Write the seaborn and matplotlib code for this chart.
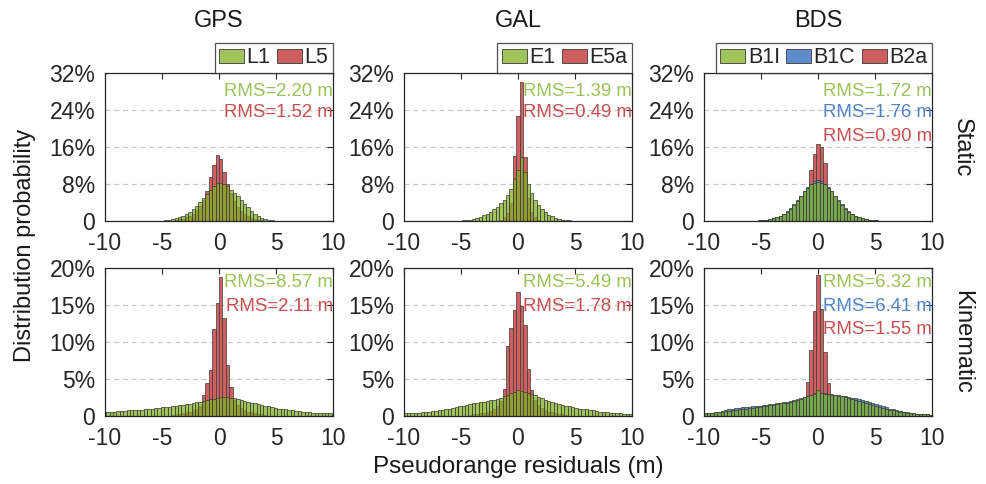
import numpy as np
import pandas as pd
import matplotlib
matplotlib.use("Agg")
import matplotlib.pyplot as plt
import seaborn as sns
from matplotlib.ticker import FuncFormatter
from matplotlib.patches import Patch

sns.set_theme(style="white")
plt.rcParams["font.family"] = ["Liberation Sans", "DejaVu Sans"]
plt.rcParams["axes.unicode_minus"] = False

# ---------------- data (percent per 0.3 m bin) ----------------
BIN_W = 0.3
SYSTEMS = ["GPS", "GAL", "BDS"]
ROWS = ["Static", "Kinematic"]

# GPS static, first bin centre -5.85
gps_sta_x0 = -5.85
gps_sta_L1 = [0.02, 0.03, 0.05, 0.08, 0.15, 0.25, 0.4, 0.6, 0.85, 1.15,
              1.5, 2.0, 2.6, 3.3, 4.1, 5.0, 5.9, 6.8, 7.6, 8.2,
              8.2, 8.1, 7.6, 6.8, 6.0, 5.3, 4.5, 3.7, 3.0, 2.2,
              1.5, 1.0, 0.7, 0.4, 0.25, 0.15, 0.1, 0.05, 0.03, 0.02]
gps_sta_L5 = [0, 0, 0, 0, 0, 0, 0.1, 0.2, 0.35, 0.5,
              0.8, 1.1, 1.6, 2.3, 3.2, 4.5, 6.5, 9.5, 12.1, 14.3,
              13.3, 10.7, 8.0, 6.0, 4.3, 3.0, 2.1, 1.5, 1.0, 0.7,
              0.5, 0.3, 0.2, 0.1, 0, 0, 0, 0, 0, 0]

# GAL static, first bin centre -6.0
gal_sta_x0 = -6.0
gal_sta_E1 = [0.02, 0.03, 0.05, 0.08, 0.12, 0.18, 0.3, 0.45, 0.65, 0.9,
              1.2, 1.6, 2.0, 2.5, 3.1, 3.8, 4.6, 5.6, 7.0, 9.0,
              11.0, 13.8, 10.5, 8.0, 6.0, 4.6, 3.5, 2.6, 1.9, 1.4,
              1.0, 0.7, 0.45, 0.3, 0.2, 0.12, 0.08, 0.05, 0.03, 0.02, 0.01]
gal_sta_E5a = [0, 0, 0, 0, 0, 0, 0, 0, 0, 0,
               0, 0, 0, 0, 0.1, 0.3, 0.8, 1.8, 4.0, 14.0,
               22.6, 30.1, 13.8, 5.0, 2.0, 0.8, 0.3, 0.1, 0, 0,
               0, 0, 0, 0, 0, 0, 0, 0, 0, 0, 0]

# BDS static, first bin centre -6.0
bds_sta_x0 = -6.0
bds_sta_B1I = [0.05, 0.07, 0.1, 0.14, 0.2, 0.28, 0.4, 0.55, 0.8, 1.1,
               1.5, 2.0, 2.7, 3.5, 4.4, 5.4, 6.4, 7.2, 7.9, 8.3,
               8.5, 8.3, 7.9, 7.2, 6.4, 5.4, 4.4, 3.5, 2.7, 2.0,
               1.5, 1.1, 0.8, 0.55, 0.4, 0.28, 0.2, 0.14, 0.1, 0.07, 0.05]
bds_sta_B1C = [0.05, 0.07, 0.1, 0.15, 0.22, 0.3, 0.43, 0.6, 0.85, 1.15,
               1.55, 2.1, 2.8, 3.6, 4.5, 5.5, 6.5, 7.4, 8.1, 8.6,
               8.8, 8.6, 8.1, 7.4, 6.5, 5.5, 4.5, 3.6, 2.8, 2.1,
               1.55, 1.15, 0.85, 0.6, 0.43, 0.3, 0.22, 0.15, 0.1, 0.07, 0.05]
bds_sta_B2a = [0, 0, 0, 0, 0, 0, 0, 0, 0.1, 0.15,
               0.2, 0.3, 0.45, 0.65, 1.0, 1.6, 3.0, 6.5, 11.0, 14.5,
               16.6, 16.1, 12.5, 7.0, 3.8, 2.2, 1.4, 0.9, 0.6, 0.4,
               0.3, 0.2, 0.1, 0, 0, 0, 0, 0, 0, 0, 0]

# GPS kinematic, first bin centre -10.05
gps_kin_x0 = -10.05
gps_kin_L1 = [0.55, 0.55, 0.6, 0.6, 0.65, 0.7, 0.7, 0.75, 0.75, 0.8,
              0.85, 0.85, 0.9, 0.95, 1.0, 1.05, 1.1, 1.15, 1.2, 1.25,
              1.3, 1.35, 1.45, 1.5, 1.6, 1.65, 1.75, 1.85, 1.95, 2.05,
              2.15, 2.25, 2.35, 2.45, 2.55, 2.6, 2.55, 2.5, 2.4, 2.3,
              2.2, 2.05, 1.9, 1.8, 1.7, 1.6, 1.5, 1.4, 1.3, 1.2,
              1.1, 1.0, 0.95, 0.9, 0.8, 0.75, 0.7, 0.65, 0.6, 0.55,
              0.5, 0.45, 0.45, 0.4, 0.4, 0.35, 0.35, 0.3]
gps_kin_L5_x0 = -4.05
gps_kin_L5 = [0.2, 0.25, 0.3, 0.4, 0.5, 0.6, 0.8, 1.0, 1.4, 2.8,
              4.4, 6.2, 11.7, 15.3, 18.8, 13.2, 6.9, 3.9, 2.2, 1.5,
              1.1, 0.8, 0.6, 0.5, 0.4, 0.3, 0.25, 0.2]

# GAL kinematic, first bin centre -9.9
gal_kin_x0 = -9.9
gal_kin_E1 = [0.35, 0.4, 0.4, 0.45, 0.45, 0.5, 0.55, 0.6, 0.65, 0.7,
              0.75, 0.8, 0.9, 1.0, 1.1, 1.2, 1.3, 1.4, 1.5, 1.6,
              1.7, 1.75, 1.85, 1.95, 2.0, 2.1, 2.2, 2.35, 2.5, 2.65,
              2.85, 3.05, 3.25, 3.45, 3.4, 3.3, 3.1, 2.95, 2.8, 2.6,
              2.4, 2.2, 2.05, 1.9, 1.75, 1.6, 1.5, 1.4, 1.3, 1.2,
              1.1, 1.0, 0.95, 0.9, 0.8, 0.75, 0.7, 0.6, 0.55, 0.5,
              0.45, 0.4, 0.4, 0.35, 0.3, 0.3, 0.25]
gal_kin_E5a_x0 = -4.2
gal_kin_E5a = [0.2, 0.25, 0.3, 0.35, 0.45, 0.55, 0.7, 0.9, 1.3, 2.0,
               3.6, 9.4, 11.9, 14.3, 16.7, 14.8, 12.3, 6.4, 3.5, 2.2,
               1.5, 1.1, 0.8, 0.6, 0.5, 0.4, 0.3, 0.25, 0.2]

# BDS kinematic, first bin centre -9.9
bds_kin_x0 = -9.9
bds_kin_B1I = [0.35, 0.4, 0.45, 0.5, 0.55, 0.6, 0.65, 0.7, 0.8, 0.85,
               0.9, 0.95, 1.0, 1.05, 1.1, 1.2, 1.25, 1.3, 1.4, 1.5,
               1.55, 1.6, 1.7, 1.75, 1.8, 1.9, 2.0, 2.2, 2.35, 2.55,
               2.7, 2.85, 3.0, 3.5, 3.1, 3.0, 2.95, 2.9, 2.85, 2.75,
               2.65, 2.55, 2.45, 2.35, 2.2, 2.05, 1.95, 1.8, 1.65, 1.5,
               1.35, 1.2, 1.05, 0.95, 0.85, 0.75, 0.65, 0.55, 0.5, 0.45,
               0.4, 0.35, 0.3, 0.3, 0.25, 0.25, 0.2]
bds_kin_B1C = [0.35, 0.4, 0.45, 0.55, 0.6, 0.7, 0.8, 0.9, 1.0, 1.05,
               1.1, 1.15, 1.2, 1.25, 1.3, 1.35, 1.4, 1.45, 1.5, 1.6,
               1.65, 1.7, 1.8, 1.85, 1.9, 2.0, 2.1, 2.25, 2.4, 2.6,
               2.75, 2.9, 3.05, 3.4, 3.15, 3.05, 3.0, 2.95, 2.9, 2.85,
               2.75, 2.7, 2.6, 2.5, 2.4, 2.3, 2.2, 2.05, 1.9, 1.75,
               1.6, 1.45, 1.3, 1.15, 1.0, 0.9, 0.75, 0.65, 0.55, 0.5,
               0.4, 0.35, 0.3, 0.3, 0.25, 0.25, 0.2]
bds_kin_B2a_x0 = -4.2
bds_kin_B2a = [0.15, 0.2, 0.25, 0.3, 0.4, 0.5, 0.6, 0.8, 1.1, 1.6,
               2.6, 4.6, 8.9, 14.2, 19.0, 14.4, 8.7, 4.4, 2.6, 1.7,
               1.2, 0.9, 0.7, 0.5, 0.4, 0.3, 0.25, 0.2, 0.15]

# RMS labels
rms_static = {"GPS": ["2.20", "1.52"], "GAL": ["1.39", "0.49"], "BDS": ["1.72", "1.76", "0.90"]}
rms_kinematic = {"GPS": ["8.57", "2.11"], "GAL": ["5.49", "1.78"], "BDS": ["6.32", "6.41", "1.55"]}
signals = {"GPS": ["L1", "L5"], "GAL": ["E1", "E5a"], "BDS": ["B1I", "B1C", "B2a"]}

# ---------------- styling ----------------
FACE = {"g": "#80b023", "b": "#5a8cd0", "r": "#d05f5f"}
ALPHA = {"g": 0.75, "b": 1.0, "r": 1.0}
LEG = {"g": "#a0c45a", "b": "#5f8ccd", "r": "#cd5f5f"}
TXT = {"g": "#9cc25a", "b": "#4f82c8", "r": "#c94f4f"}
EDGE = "#3a3a3a"

panels = {
    ("Static", "GPS"): [("r", gps_sta_x0, gps_sta_L5), ("g", gps_sta_x0, gps_sta_L1)],
    ("Static", "GAL"): [("r", gal_sta_x0, gal_sta_E5a), ("g", gal_sta_x0, gal_sta_E1)],
    ("Static", "BDS"): [("r", bds_sta_x0, bds_sta_B2a), ("b", bds_sta_x0, bds_sta_B1C),
                        ("g", bds_sta_x0, bds_sta_B1I)],
    ("Kinematic", "GPS"): [("r", gps_kin_L5_x0, gps_kin_L5), ("g", gps_kin_x0, gps_kin_L1)],
    ("Kinematic", "GAL"): [("r", gal_kin_E5a_x0, gal_kin_E5a), ("g", gal_kin_x0, gal_kin_E1)],
    ("Kinematic", "BDS"): [("r", bds_kin_B2a_x0, bds_kin_B2a), ("b", bds_kin_x0, bds_kin_B1C),
                           ("g", bds_kin_x0, bds_kin_B1I)],
}
text_colors = {2: ["g", "r"], 3: ["g", "b", "r"]}

W, H = 987, 484
fig = plt.figure(figsize=(W / 100, H / 100), dpi=100)

lefts = [105, 404, 704]
ax_w = 228
rows_px = {"Static": (73, 221), "Kinematic": (268, 416)}
ylims = {"Static": (32, [0, 8, 16, 24, 32]), "Kinematic": (20, [0, 5, 10, 15, 20])}
txt_y = {"Static": [0.878, 0.735, 0.57], "Kinematic": [0.905, 0.74, 0.585]}

fmt = FuncFormatter(lambda v, p: "0" if abs(v) < 1e-9 else f"{v:.0f}%")

for row in ROWS:
    top, bot = rows_px[row]
    for j, sysname in enumerate(SYSTEMS):
        ax = fig.add_axes([lefts[j] / W, 1 - bot / H, ax_w / W, (bot - top) / H])
        for key, x0, vals in panels[(row, sysname)]:
            vals = np.asarray(vals, dtype=float)
            df = pd.DataFrame({"x": x0 + BIN_W * np.arange(len(vals)), "w": vals})
            edges = list(x0 - BIN_W / 2 + BIN_W * np.arange(len(vals) + 1))
            sns.histplot(data=df, x="x", weights="w", bins=edges, stat="count", ax=ax,
                         color=FACE[key], alpha=ALPHA[key], edgecolor=EDGE,
                         linewidth=0.5, zorder=2)
        ymax, yt = ylims[row]
        ax.set_xlim(-10, 10)
        ax.set_ylim(0, ymax)
        ax.set_xticks([-10, -5, 0, 5, 10])
        ax.set_yticks(yt)
        ax.yaxis.set_major_formatter(fmt)
        ax.set_xlabel("")
        ax.set_ylabel("")
        ax.yaxis.grid(True, linestyle=(0, (4, 3)), color="#c8c8c8", linewidth=0.9, zorder=0)
        ax.set_axisbelow(True)
        ax.tick_params(direction="in", length=4, width=0.8, top=True, right=True,
                       labelsize=16.5, colors="#262626")
        ax.tick_params(axis="y", pad=7)
        ax.tick_params(axis="x", pad=8)
        for s in ax.spines.values():
            s.set_color("#262626")
            s.set_linewidth(0.9)
            s.set_zorder(5)
        rms = (rms_static if row == "Static" else rms_kinematic)[sysname]
        cols = text_colors[len(rms)]
        for k, (val, ck) in enumerate(zip(rms, cols)):
            ax.text(1.0, txt_y[row][k], f"RMS={val} m", transform=ax.transAxes,
                    ha="right", va="center", fontsize=13.4, color=TXT[ck], zorder=6)
        if row == "Static":
            names = signals[sysname]
            keys = ["g", "r"] if len(names) == 2 else ["g", "b", "r"]
            handles = [Patch(facecolor=LEG[k], edgecolor=EDGE, linewidth=0.6) for k in keys]
            leg = ax.legend(handles, names, loc="lower right", bbox_to_anchor=(1.0, 1.0),
                            ncol=len(names), frameon=True, fancybox=False,
                            borderaxespad=0, handlelength=1.15, handleheight=0.65,
                            handletextpad=0.12, columnspacing=0.3, borderpad=0.22,
                            fontsize=15.5)
            leg.get_frame().set_edgecolor("#262626")
            leg.get_frame().set_linewidth(0.9)
            fig.text((lefts[j] + ax_w / 2) / W, 1 - 21 / H, sysname, ha="center",
                     va="center", fontsize=17, color="#1a1a1a")

fig.text(962 / W, 1 - 148 / H, "Static", rotation=270, ha="center", va="center",
         fontsize=17, color="#1a1a1a")
fig.text(962 / W, 1 - 342 / H, "Kinematic", rotation=270, ha="center", va="center",
         fontsize=17, color="#1a1a1a")
fig.text(25 / W, 1 - 245 / H, "Distribution probability", rotation=90, ha="center",
         va="center", fontsize=17, color="#1a1a1a")
fig.text(518 / W, 1 - 467 / H, "Pseudorange residuals (m)", ha="center", va="center",
         fontsize=17.5, color="#1a1a1a")

fig.savefig("out.png", dpi=100)
